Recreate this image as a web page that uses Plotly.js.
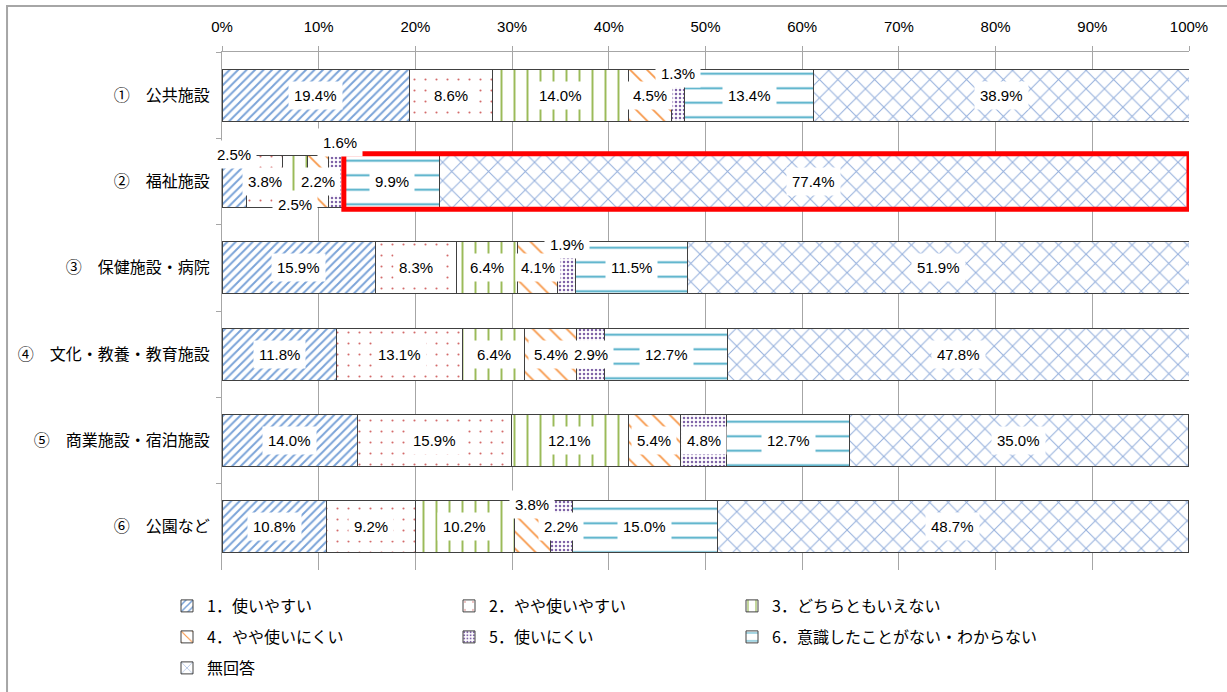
<!DOCTYPE html>
<html>
<head>
<meta charset="utf-8">
<script src="https://cdn.plot.ly/plotly-3.0.1.min.js"></script>
<style>
html,body{margin:0;padding:0;background:#fff;}
#chart{width:1227px;height:692px;}
</style>
</head>
<body>
<div id="chart"></div>
<script>
// ---- data ----
const categories = ["①　公共施設", "②　福祉施設", "③　保健施設・病院", "④　文化・教養・教育施設", "⑤　商業施設・宿泊施設", "⑥　公園など"];
const seriesNames = ["1．使いやすい", "2．やや使いやすい", "3．どちらともいえない", "4．やや使いにくい", "5．使いにくい", "6．意識したことがない・わからない", "無回答"];
const easy        = [19.4, 2.5, 15.9, 11.8, 14.0, 10.8];
const fairlyEasy  = [8.6, 3.8, 8.3, 13.1, 15.9, 9.2];
const neither     = [14.0, 2.5, 6.4, 6.4, 12.1, 10.2];
const fairlyHard  = [4.5, 2.2, 4.1, 5.4, 5.4, 3.8];
const hard        = [1.3, 1.6, 1.9, 2.9, 4.8, 2.2];
const unaware     = [13.4, 9.9, 11.5, 12.7, 12.7, 15.0];
const noAnswer    = [38.9, 77.4, 51.9, 47.8, 35.0, 48.7];
const seriesValues = [easy, fairlyEasy, neither, fairlyHard, hard, unaware, noAnswer];
const xTickVals = [0,10,20,30,40,50,60,70,80,90,100];
const xTickText = ["0%","10%","20%","30%","40%","50%","60%","70%","80%","90%","100%"];

// ---- styles ----
const patterns = [
  {shape:"/",  fgcolor:"#7aa3d8", size:6,  solidity:0.32},
  {shape:".",  fgcolor:"#d46a6a", size:11, solidity:0.03},
  {shape:"|",  fgcolor:"#9bbb59", size:13, solidity:0.15},
  {shape:"\\", fgcolor:"#f79646", size:12, solidity:0.14},
  {shape:".",  fgcolor:"#7f63a8", size:4,  solidity:0.3},
  {shape:"-",  fgcolor:"#4bacc6", size:14.5, solidity:0.13},
  {shape:"x",  fgcolor:"#94afdc", size:13, solidity:0.15}
];
// legend grid placement (pixels in the page): [left, centre y]
const legendPos = [[167,606],[449,606],[732,606],[167,637],[449,637],[732,637],[167,668]];
// label displacement (px) for crowded small segments: key "row-series"
const labelShift = {"0-4":[0,22], "1-0":[0,27], "1-2":[0,-23], "1-4":[4,39], "2-4":[0,23], "5-3":[0,22]};

const legendNames = seriesNames.map((n, s) => s === 0 ? "legend" : "legend" + (s + 1));

const traces = seriesValues.map((vals, s) => ({
  type:"bar", orientation:"h",
  y: categories, x: vals, name: seriesNames[s],
  legend: legendNames[s],
  marker:{color:"#ffffff", pattern:Object.assign({bgcolor:"#ffffff", fillmode:"replace"}, patterns[s]),
          line:{color:"#404040", width:1}},
  hoverinfo:"none"
}));

const annotations = [];
categories.forEach((c, r) => {
  let cum = 0;
  seriesValues.forEach((vals, s) => {
    const v = vals[r];
    const sh = labelShift[r+"-"+s] || [0,0];
    annotations.push({
      x: cum + v/2, y: c, xref:"x", yref:"y",
      text: v.toFixed(1) + "%", showarrow:false,
      xshift: sh[0], yshift: sh[1],
      bgcolor:"#ffffff", borderpad:5,
      font:{family:"Liberation Sans, Arial, sans-serif", size:15, color:"#000"}
    });
    cum += v;
  });
});

// red highlight around row 2, series 6 and 7
const hiRow = 1;
let hiStart = 0;
for (let s = 0; s < 5; s++) hiStart += seriesValues[s][hiRow];

const shapes = [
  {type:"rect", xref:"x", yref:"y", x0:hiStart, x1:100, y0:hiRow-0.32, y1:hiRow+0.32,
   line:{color:"#ff0000", width:5}, fillcolor:"rgba(0,0,0,0)", layer:"above"},
  {type:"rect", xref:"paper", yref:"paper", x0:-0.2223, x1:1.2, y0:-0.5, y1:1.0888,
   line:{color:"#a6a6a6", width:2}, fillcolor:"rgba(0,0,0,0)", layer:"below"}
];

const legendFont = {family:"Noto Sans CJK JP, sans-serif", size:16, color:"#000"};

const layout = {
  width:1227, height:692,
  margin:{l:222, r:38, t:52, b:122, autoexpand:false},
  paper_bgcolor:"#ffffff", plot_bgcolor:"#ffffff",
  barmode:"stack", bargap:0.4,
  showlegend:true,
  xaxis:{side:"top", range:[0,100], tickvals:xTickVals, ticktext:xTickText,
         showgrid:true, gridcolor:"#a6a6a6", gridwidth:1, zeroline:false,
         showline:true, linecolor:"#a6a6a6", linewidth:1,
         ticks:"outside", ticklen:5, tickcolor:"#a6a6a6", ticklabelstandoff:8,
         tickfont:{family:"Liberation Sans, Arial, sans-serif", size:15, color:"#000"}, fixedrange:true},
  yaxis:{type:"category", autorange:"reversed", showgrid:false, zeroline:false,
         showline:true, linecolor:"#a6a6a6", linewidth:1,
         ticks:"outside", ticklen:5, tickcolor:"#a6a6a6", tickson:"boundaries",
         ticklabelstandoff:8,
         tickfont:{family:"Noto Sans CJK JP, sans-serif", size:16, color:"#000"}, fixedrange:true},
  annotations: annotations,
  shapes: shapes
};
legendNames.forEach((ln, s) => {
  layout[ln] = {orientation:"h", xref:"container", yref:"container",
                x: legendPos[s][0]/1227, y: 1 - legendPos[s][1]/692,
                xanchor:"left", yanchor:"middle",
                font:legendFont, bgcolor:"rgba(0,0,0,0)"};
});

Plotly.newPlot("chart", traces, layout, {displayModeBar:false, staticPlot:true});
</script>
</body>
</html>
